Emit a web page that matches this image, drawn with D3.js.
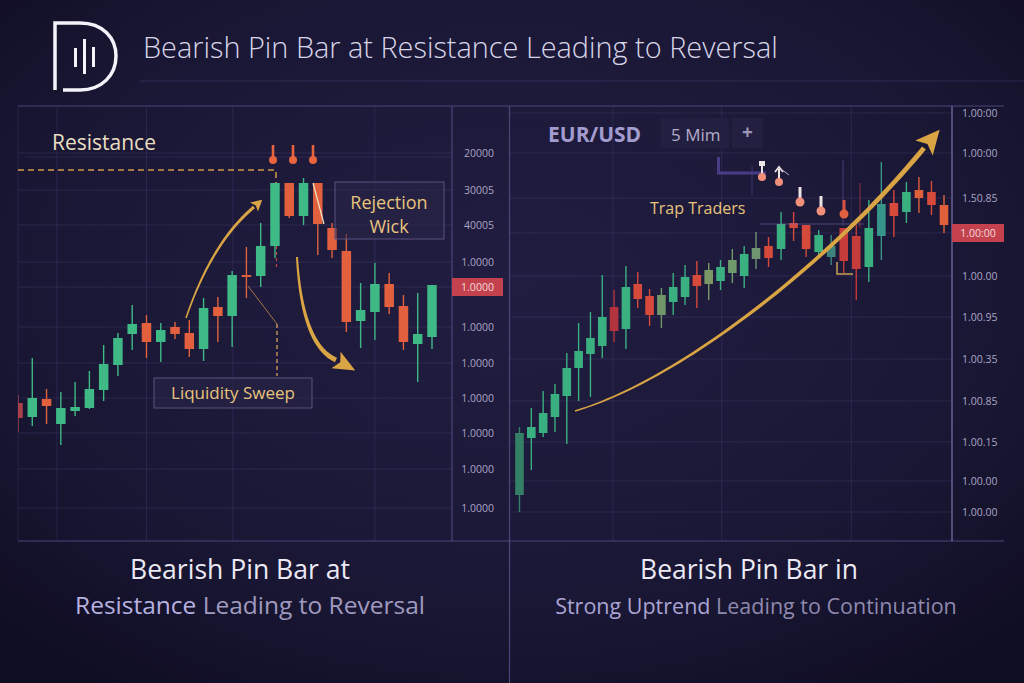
<!DOCTYPE html>
<html>
<head>
<meta charset="utf-8">
<script src="https://cdn.jsdelivr.net/npm/d3@7"></script>
<style>
html, body { margin: 0; padding: 0; background: #17152f; }
svg { display: block; }
text { font-family: "Open Sans", "Noto Sans", sans-serif; }
</style>
</head>
<body>
<div id="chart"></div>
<script>
// candles are [open, high, low, close] in points
var leftCandles = [
    [68.5, 72.5, 54, 61], [61.5, 91, 57, 71], [70.5, 75.5, 58, 67], [58, 74, 47.5, 66],
    [64.5, 79, 62, 66.5], [66, 84.5, 65.5, 75.5], [75, 97.5, 69.5, 88], [87.5, 103.5, 82, 101],
    [103, 117.5, 95, 108], [108.5, 112.5, 91, 99], [99, 108.5, 89, 105], [106.5, 109, 100.5, 103],
    [103.5, 110, 91.5, 95.5], [95.5, 121, 89.5, 116], [116.5, 121.5, 99, 112], [112, 134.5, 96.5, 132.5],
    [132.5, 146.5, 121, 131.5], [132, 158.5, 126.5, 147], [147, 178.5, 141, 178.5], [178.5, 178.5, 161, 162],
    [162, 181, 157.5, 178.5], [178.5, 178.5, 142.5, 158], [156, 158.5, 141, 145], [144.5, 153, 104, 109],
    [109.5, 128.5, 96, 115], [114, 138.5, 100, 128], [128, 133.5, 113, 116.5], [117, 122.5, 95, 99],
    [98, 123.5, 79, 103], [101.5, 127.5, 95.5, 127.5]
];

var rightCandles = [
    [22.5, 56.5, 14, 53.5], [51, 66, 35, 56.5], [53.5, 74.5, 51.5, 63.5], [61.5, 78, 54, 73],
    [72, 93.5, 48, 86], [86, 108.5, 69.5, 94.5], [93, 114, 71.5, 101], [97, 132.5, 91, 111.5],
    [116.5, 125, 99, 104.5], [105.5, 137, 95.5, 126.5], [128, 134, 116, 120.5], [122, 125.5, 107, 112.5],
    [112.5, 126, 106, 122.5], [119, 133.5, 112.5, 126.5], [121.5, 137.5, 117.5, 131.5], [132.5, 139.5, 116, 127],
    [128, 138.5, 120, 135], [129.5, 140, 125, 136.5], [133.5, 145.5, 128.5, 140], [132, 147, 126, 143],
    [140.5, 154, 135.5, 146], [147, 151.5, 136.5, 141], [145.5, 164, 140, 158], [158.5, 164, 149.5, 156],
    [157.5, 157.5, 141.5, 145.5], [144, 155, 141.5, 152.5], [141.5, 152.5, 137.5, 147], [156, 156, 133.5, 139.5],
    [152, 157.5, 120, 135.5], [136.5, 170, 129, 156], [152, 189, 140, 168], [168.5, 175, 151.5, 162],
    [164, 179, 158.5, 174], [175, 181.5, 163.5, 171], [174, 179.5, 162.5, 167.5], [167.5, 172.5, 153.5, 157.5]
];

var leftTickValues = [193.5, 175, 157.5, 139, 106.5, 88.5, 71, 53.5, 35.5, 16];
var leftTickLabels = ["20000", "30005", "40005", "1.0000", "1.0000", "1.0000", "1.0000", "1.0000", "1.0000", "1.0000"];
var leftLastPrice = 126.5;
var leftLastLabel = "1.0000";

var rightTickValues = [213.5, 193.5, 171, 132, 111.5, 90.5, 69.5, 49, 29.5, 14];
var rightTickLabels = ["1.00:00", "1.00:00", "1.50.85", "1.00.00", "1.00.95", "1.00.35", "1.00.85", "1.00.15", "1.00.00", "1.00.00"];
var rightLastPrice = 153.5;
var rightLastLabel = "1.00:00";

var W = 1024, H = 683;
var gold = "#d9a443";
var goldText = "#e8c47c";

var svg = d3.select("#chart").append("svg").attr("width", W).attr("height", H);
var defs = svg.append("defs");

var rg = defs.append("radialGradient").attr("id", "bg").attr("cx", "50%").attr("cy", "42%").attr("r", "72%");
rg.append("stop").attr("offset", "0%").attr("stop-color", "#211d41");
rg.append("stop").attr("offset", "65%").attr("stop-color", "#1a1735");
rg.append("stop").attr("offset", "100%").attr("stop-color", "#0f0d22");
svg.append("rect").attr("width", W).attr("height", H).attr("fill", "url(#bg)");

defs.append("clipPath").attr("id", "clipL").append("rect").attr("x", 18).attr("y", 106).attr("width", 434).attr("height", 435);
defs.append("clipPath").attr("id", "clipR").append("rect").attr("x", 510).attr("y", 106).attr("width", 442).attr("height", 435);

var yL = d3.scaleLinear().domain([0, 217]).range([540, 106]);
var yR = d3.scaleLinear().domain([0, 217]).range([540, 106]);
var xL = d3.scaleLinear().domain([0, leftCandles.length - 1]).range([18, 432]);
var xR = d3.scaleLinear().domain([0, 20, rightCandles.length - 1]).range([519.5, 756, 944]);

// grid
var grid = svg.append("g").attr("stroke", "#6d63b0").attr("stroke-opacity", 0.2).attr("stroke-width", 1);
grid.selectAll(".hl").data(leftTickValues.concat([leftLastPrice])).join("line").attr("class", "hl")
    .attr("x1", 18).attr("x2", 452).attr("y1", d => yL(d)).attr("y2", d => yL(d));
grid.selectAll(".vl").data([2.73, 9, 15.05, 25]).join("line").attr("class", "vl")
    .attr("x1", d => xL(d)).attr("x2", d => xL(d)).attr("y1", 106).attr("y2", 541);
grid.selectAll(".hr").data(rightTickValues.concat([rightLastPrice])).join("line").attr("class", "hr")
    .attr("x1", 510).attr("x2", 952).attr("y1", d => yR(d)).attr("y2", d => yR(d));
grid.selectAll(".vr").data([7.9, 17.1, 27.6]).join("line").attr("class", "vr")
    .attr("x1", d => xR(d)).attr("x2", d => xR(d)).attr("y1", 106).attr("y2", 541);
grid.append("line").attr("x1", 18).attr("x2", 18).attr("y1", 106).attr("y2", 541);
grid.append("line").attr("x1", 25).attr("x2", 452).attr("y1", 157).attr("y2", 157);

// frame
var frame = svg.append("g").attr("stroke", "#4b4578").attr("stroke-width", 1.2).attr("fill", "none");
frame.append("line").attr("x1", 140).attr("x2", 1024).attr("y1", 81).attr("y2", 81).attr("stroke-opacity", 0.45);
frame.append("line").attr("x1", 18).attr("x2", 1004).attr("y1", 106).attr("y2", 106);
frame.append("line").attr("x1", 18).attr("x2", 1004).attr("y1", 541).attr("y2", 541);
frame.append("line").attr("x1", 452).attr("x2", 452).attr("y1", 106).attr("y2", 541);
frame.append("line").attr("x1", 509.5).attr("x2", 509.5).attr("y1", 106).attr("y2", 683);
frame.append("line").attr("x1", 952).attr("x2", 952).attr("y1", 106).attr("y2", 541).attr("stroke", "#7a72aa");

function drawCandles(g, data, x, y, w, colorOf) {
    g.selectAll(".wick").data(data).join("line").attr("class", "wick")
        .attr("x1", (d, i) => x(i)).attr("x2", (d, i) => x(i))
        .attr("y1", d => y(d[1])).attr("y2", d => y(d[2]))
        .attr("stroke", colorOf).attr("stroke-width", 1.4);
    g.selectAll(".body").data(data).join("rect").attr("class", "body")
        .attr("x", (d, i) => x(i) - w / 2).attr("width", w)
        .attr("y", d => y(Math.max(d[0], d[3])))
        .attr("height", d => Math.max(1.6, Math.abs(y(d[0]) - y(d[3]))))
        .attr("fill", colorOf);
}

var upL = "#3fb985", downL = "#e2603e";
drawCandles(svg.append("g").attr("clip-path", "url(#clipL)"), leftCandles, xL, yL, 9.5,
    (d, i) => i === 0 ? "#a8404a" : (d[3] >= d[0] ? upL : downL));

var rightTint = { 0: "#338066", 8: "#b3343e", 12: "#71966a", 16: "#7a9866", 18: "#6f9a6a", 20: "#6f9470",
    26: "#3d857c", 27: "#c63c3a", 28: "#c63c3a", 30: "#37958a", 33: "#e0603a", 35: "#e0603a" };
var upR = "#3aaf80", downR = "#d54a3a";
drawCandles(svg.append("g").attr("clip-path", "url(#clipR)"), rightCandles, xR, yR, 8.6,
    (d, i) => rightTint[i] || (d[3] >= d[0] ? upR : downR));

// axes
var axL = svg.append("g").attr("transform", "translate(494,0)")
    .call(d3.axisLeft(yL).tickValues(leftTickValues).tickFormat((d, i) => leftTickLabels[i]).tickSize(0).tickPadding(0));
var axR = svg.append("g").attr("transform", "translate(962,0)")
    .call(d3.axisRight(yR).tickValues(rightTickValues).tickFormat((d, i) => rightTickLabels[i]).tickSize(0).tickPadding(0));
[axL, axR].forEach(function(ax) {
    ax.select(".domain").remove();
    ax.selectAll("text").attr("fill", "#aaa5c4").attr("font-size", 10.5)
        .attr("font-family", "'Open Sans', sans-serif");
});

function badge(x, w, y, label) {
    svg.append("rect").attr("x", x).attr("y", y - 9).attr("width", w).attr("height", 18).attr("fill", "#c4424e");
    svg.append("text").attr("x", x + w / 2).attr("y", y + 4).attr("text-anchor", "middle")
        .attr("font-size", 10.5).attr("fill", "#f3dada").text(label);
}
badge(452, 51, yL(leftLastPrice), leftLastLabel);
badge(952, 52, yR(rightLastPrice), rightLastLabel);

// curved arrows
function bez(p, t) {
    var u = 1 - t;
    if (p.length === 3) {
        return [u * u * p[0][0] + 2 * u * t * p[1][0] + t * t * p[2][0],
                u * u * p[0][1] + 2 * u * t * p[1][1] + t * t * p[2][1]];
    }
    return [u * u * u * p[0][0] + 3 * u * u * t * p[1][0] + 3 * u * t * t * p[2][0] + t * t * t * p[3][0],
            u * u * u * p[0][1] + 3 * u * u * t * p[1][1] + 3 * u * t * t * p[2][1] + t * t * t * p[3][1]];
}

function arrow(pts, w0, w1, headLen, headW, color) {
    var n = 50;
    var s = d3.range(n + 1).map(i => bez(pts, i / n));
    var a = [], b = [];
    s.forEach(function(p, i) {
        var p0 = s[Math.max(0, i - 1)], p1 = s[Math.min(n, i + 1)];
        var dx = p1[0] - p0[0], dy = p1[1] - p0[1], len = Math.hypot(dx, dy);
        var nx = -dy / len, ny = dx / len, w = (w0 + (w1 - w0) * i / n) / 2;
        a.push([p[0] + nx * w, p[1] + ny * w]);
        b.push([p[0] - nx * w, p[1] - ny * w]);
    });
    svg.append("path").attr("d", d3.line()(a.concat(b.reverse())) + "Z").attr("fill", color);
    var e = s[n], q = s[n - 4];
    var dx = e[0] - q[0], dy = e[1] - q[1], len = Math.hypot(dx, dy);
    dx /= len; dy /= len;
    var tip = [e[0] + dx * headLen, e[1] + dy * headLen];
    var notch = [e[0] + dx * headLen * 0.22, e[1] + dy * headLen * 0.22];
    var l = [e[0] - dy * headW / 2, e[1] + dx * headW / 2];
    var r = [e[0] + dy * headW / 2, e[1] - dx * headW / 2];
    svg.append("path").attr("d", d3.line()([tip, l, notch, r]) + "Z").attr("fill", color);
}

// left panel annotations
svg.append("text").attr("x", 52).attr("y", 150).attr("font-size", 21).attr("fill", "#e9dfc2").text("Resistance");
svg.append("path").attr("d", "M18,170H276V183").attr("fill", "none").attr("stroke", "#d29a48")
    .attr("stroke-width", 1.5).attr("stroke-dasharray", "6,4");
svg.append("line").attr("x1", 276.5).attr("x2", 276.5).attr("y1", 246).attr("y2", 268)
    .attr("stroke", "#c0443c").attr("stroke-width", 1.2).attr("stroke-dasharray", "3,3");
svg.append("line").attr("x1", 248).attr("y1", 286).attr("x2", 277).attr("y2", 324)
    .attr("stroke", "#a8764a").attr("stroke-width", 1);
svg.append("line").attr("x1", 277).attr("x2", 277).attr("y1", 324).attr("y2", 376)
    .attr("stroke", "#c9955a").attr("stroke-width", 1.4).attr("stroke-dasharray", "4,3");

arrow([[186, 318], [212, 242], [254, 207]], 1.6, 3.2, 11, 12, gold);
arrow([[297, 257], [302, 345], [336, 360]], 2, 5, 22, 19, gold);

svg.append("rect").attr("x", 154).attr("y", 378).attr("width", 158).attr("height", 30)
    .attr("fill", "#2a2648").attr("fill-opacity", 0.55).attr("stroke", "#5a5380").attr("stroke-width", 1);
svg.append("text").attr("x", 233).attr("y", 399).attr("text-anchor", "middle").attr("font-size", 17)
    .attr("fill", goldText).text("Liquidity Sweep");

svg.append("rect").attr("x", 335).attr("y", 182).attr("width", 109).attr("height", 57)
    .attr("fill", "#2a2648").attr("fill-opacity", 0.55).attr("stroke", "#5a5380").attr("stroke-width", 1);
svg.append("text").attr("x", 389).attr("y", 209).attr("text-anchor", "middle").attr("font-size", 18)
    .attr("fill", goldText).text("Rejection");
svg.append("text").attr("x", 389).attr("y", 233).attr("text-anchor", "middle").attr("font-size", 18)
    .attr("fill", goldText).text("Wick");
svg.append("line").attr("x1", 313).attr("y1", 183).attr("x2", 324).attr("y2", 224)
    .attr("stroke", "#efe6c8").attr("stroke-width", 1.2);

[273, 293, 313].forEach(function(x) {
    svg.append("line").attr("x1", x).attr("x2", x).attr("y1", 145).attr("y2", 158)
        .attr("stroke", "#e8643e").attr("stroke-width", 2.6);
    svg.append("circle").attr("cx", x).attr("cy", 160).attr("r", 4).attr("fill", "#e8643e");
});

// right panel header
svg.append("text").attr("x", 548).attr("y", 142).attr("font-size", 21).attr("font-weight", 700)
    .attr("fill", "#a29ccf").text("EUR/USD");
svg.append("rect").attr("x", 661).attr("y", 118).attr("width", 68).attr("height", 30).attr("fill", "#231f40");
svg.append("text").attr("x", 671).attr("y", 141).attr("font-size", 17).attr("fill", "#b3adc9").text("5 Mim");
svg.append("rect").attr("x", 732).attr("y", 118).attr("width", 31).attr("height", 30).attr("fill", "#231f40");
svg.append("text").attr("x", 747.5).attr("y", 139).attr("text-anchor", "middle").attr("font-size", 19)
    .attr("font-weight", 700).attr("fill", "#9b95b8").text("+");

// right panel annotations
svg.append("path").attr("d", "M718.5,157V173H766").attr("fill", "none").attr("stroke", "#4a3d88").attr("stroke-width", 3);
svg.append("line").attr("x1", 760).attr("x2", 864).attr("y1", 224).attr("y2", 224)
    .attr("stroke", "#7a70b0").attr("stroke-opacity", 0.55).attr("stroke-width", 1.2);
svg.append("line").attr("x1", 843).attr("x2", 843).attr("y1", 160).attr("y2", 226)
    .attr("stroke", "#4a3f7e").attr("stroke-opacity", 0.7).attr("stroke-width", 1.4);
svg.append("line").attr("x1", 752).attr("x2", 752).attr("y1", 166).attr("y2", 196)
    .attr("stroke", "#4a3f7e").attr("stroke-opacity", 0.6).attr("stroke-width", 1.2);
svg.append("line").attr("x1", 860).attr("x2", 860).attr("y1", 183).attr("y2", 228)
    .attr("stroke", "#a03545").attr("stroke-opacity", 0.7).attr("stroke-width", 1.2);
svg.append("path").attr("d", "M837,262V274H853").attr("fill", "none").attr("stroke", "#c9a050").attr("stroke-width", 1.5);

svg.append("text").attr("x", 650).attr("y", 214).attr("font-size", 16).attr("fill", goldText).text("Trap Traders");

var pins = svg.append("g");
pins.append("rect").attr("x", 759).attr("y", 161).attr("width", 6).attr("height", 5).attr("fill", "#ece4e4");
pins.append("line").attr("x1", 762).attr("x2", 762).attr("y1", 165).attr("y2", 174).attr("stroke", "#ece4e4").attr("stroke-width", 2);
pins.append("circle").attr("cx", 762).attr("cy", 177).attr("r", 4).attr("fill", "#f0907a");
pins.append("path").attr("d", "M775,172L779,167L783,172").attr("fill", "none").attr("stroke", "#ece4e4").attr("stroke-width", 1.8);
pins.append("line").attr("x1", 781).attr("y1", 169).attr("x2", 789).attr("y2", 175).attr("stroke", "#b8b0c8").attr("stroke-width", 1);
pins.append("line").attr("x1", 779).attr("x2", 779).attr("y1", 169).attr("y2", 179).attr("stroke", "#ece4e4").attr("stroke-width", 2);
pins.append("circle").attr("cx", 779).attr("cy", 182).attr("r", 4).attr("fill", "#f0907a");
[[800, 187, 198, 202], [821, 196, 207, 211]].forEach(function(p) {
    pins.append("line").attr("x1", p[0]).attr("x2", p[0]).attr("y1", p[1]).attr("y2", p[2])
        .attr("stroke", "#ece4e4").attr("stroke-width", 3);
    pins.append("circle").attr("cx", p[0]).attr("cy", p[3]).attr("r", 4.5).attr("fill", "#f0907a");
});
pins.append("line").attr("x1", 844).attr("x2", 844).attr("y1", 200).attr("y2", 212).attr("stroke", "#d9503f").attr("stroke-width", 3);
pins.append("circle").attr("cx", 844).attr("cy", 214).attr("r", 4.5).attr("fill", "#e0603f");

arrow([[575, 411], [680, 380], [830, 262], [924, 148]], 1.4, 5, 24, 23, gold);

// logo
var logo = svg.append("g").attr("stroke", "#f4f2fa").attr("fill", "none").attr("stroke-width", 3.5);
logo.append("path").attr("d", "M55,90V23H80C103,23 116,38 116,56C116,75 102,90 80,90H63");
logo.selectAll("rect").data([[74, 48, 67], [83, 39, 74], [92, 47, 67]]).join("rect")
    .attr("x", d => d[0]).attr("y", d => d[1]).attr("width", 3).attr("height", d => d[2] - d[1])
    .attr("fill", "#f4f2fa").attr("stroke", "none");

function fit(sel, width) {
    var w = sel.node().getComputedTextLength();
    sel.attr("font-size", parseFloat(sel.attr("font-size")) * width / w);
    return sel;
}

fit(svg.append("text").attr("x", 143).attr("y", 58).attr("font-size", 26).attr("font-weight", 300)
    .attr("fill", "#d8d5e8").text("Bearish Pin Bar at Resistance Leading to Reversal"), 635);

fit(svg.append("text").attr("x", 240).attr("y", 579).attr("text-anchor", "middle").attr("font-size", 24)
    .attr("fill", "#ebe9f3").text("Bearish Pin Bar at"), 220);
var l2 = svg.append("text").attr("x", 250).attr("y", 614).attr("text-anchor", "middle").attr("font-size", 22);
l2.append("tspan").attr("fill", "#b7b1e0").text("Resistance ");
l2.append("tspan").attr("fill", "#a09abf").text("Leading to Reversal");
fit(l2, 350);

fit(svg.append("text").attr("x", 749).attr("y", 579).attr("text-anchor", "middle").attr("font-size", 24)
    .attr("fill", "#ebe9f3").text("Bearish Pin Bar in"), 218);
var r2 = svg.append("text").attr("x", 756).attr("y", 614).attr("text-anchor", "middle").attr("font-size", 20);
r2.append("tspan").attr("fill", "#aaa4d4").text("Strong Uptrend ");
r2.append("tspan").attr("fill", "#8f89ae").text("Leading to Continuation");
fit(r2, 402);
</script>
</body>
</html>
